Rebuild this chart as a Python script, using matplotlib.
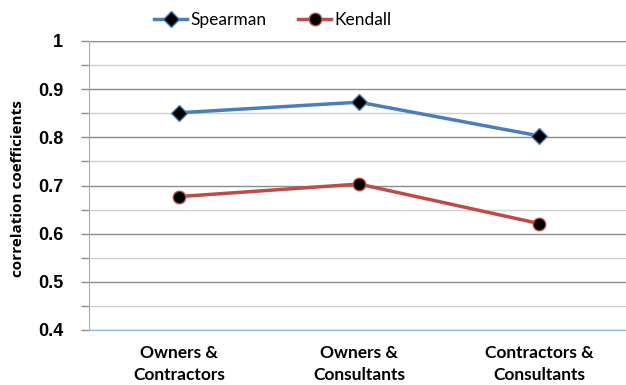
import matplotlib
matplotlib.use("Agg")
import matplotlib.pyplot as plt
from matplotlib.ticker import MultipleLocator

categories = ["Owners &\nContractors", "Owners &\nConsultants", "Contractors &\nConsultants"]
spearman = [0.851, 0.873, 0.803]
kendall = [0.677, 0.703, 0.621]
yticks = [0.4, 0.5, 0.6, 0.7, 0.8, 0.9, 1.0]
ytick_labels = ["0.4", "0.5", "0.6", "0.7", "0.8", "0.9", "1"]

fig = plt.figure(figsize=(6.26, 3.85), dpi=100)
ax = fig.add_axes([89/626, 55/385, 1 - 89/626 + 0.005, 289/385])

x = list(range(len(categories)))
blue = "#4A7EBB"
red = "#BE4B48"
axis_blue = "#8EB4E3"

ax.set_xlim(-0.5, 2.5)
ax.set_ylim(0.4, 1.0)

ax.yaxis.set_major_locator(MultipleLocator(0.1))
ax.yaxis.set_minor_locator(MultipleLocator(0.05))
ax.grid(which="major", axis="y", color="#8C8C8C", linewidth=1.0, zorder=0)
ax.grid(which="minor", axis="y", color="#D0D0D0", linewidth=1.0, zorder=0)
ax.axhline(1.0, color=axis_blue, linewidth=1.0, zorder=1)

ax.plot(x, spearman, color=blue, linewidth=2.5, marker="D", markersize=8,
        markerfacecolor="black", markeredgecolor=blue, markeredgewidth=1.0,
        label="Spearman", zorder=3)
ax.plot(x, kendall, color=red, linewidth=2.5, marker="o", markersize=9,
        markerfacecolor="black", markeredgecolor=red, markeredgewidth=1.0,
        label="Kendall", zorder=3)

for s in ["top", "right"]:
    ax.spines[s].set_visible(False)
ax.spines["left"].set_color(axis_blue)
ax.spines["bottom"].set_color(axis_blue)
ax.spines["left"].set_zorder(4)

ax.set_yticks(yticks)
ax.set_yticklabels(ytick_labels, fontsize=13, fontweight="bold", family="Liberation Sans")
ax.tick_params(axis="y", which="both", length=5.5, width=1, color="#8C8C8C", pad=13)
ax.set_xticks(x)
ax.set_xticklabels(categories, fontsize=12.5, fontweight="bold", family="Lato", linespacing=1.45)
ax.tick_params(axis="x", length=0, pad=11)

fig.text(18/626, 1 - 189/385, "correlation coefficients", rotation=90,
         ha="center", va="center", fontsize=11, fontweight="bold", family="Open Sans")

leg = fig.legend(loc="center", bbox_to_anchor=(273/626, 1 - 20/385), ncol=2, frameon=False,
                 prop={"family": "Lato", "size": 12.5}, handlelength=1.9,
                 columnspacing=1.8, handletextpad=0.2)

fig.savefig("out.png", dpi=100)
